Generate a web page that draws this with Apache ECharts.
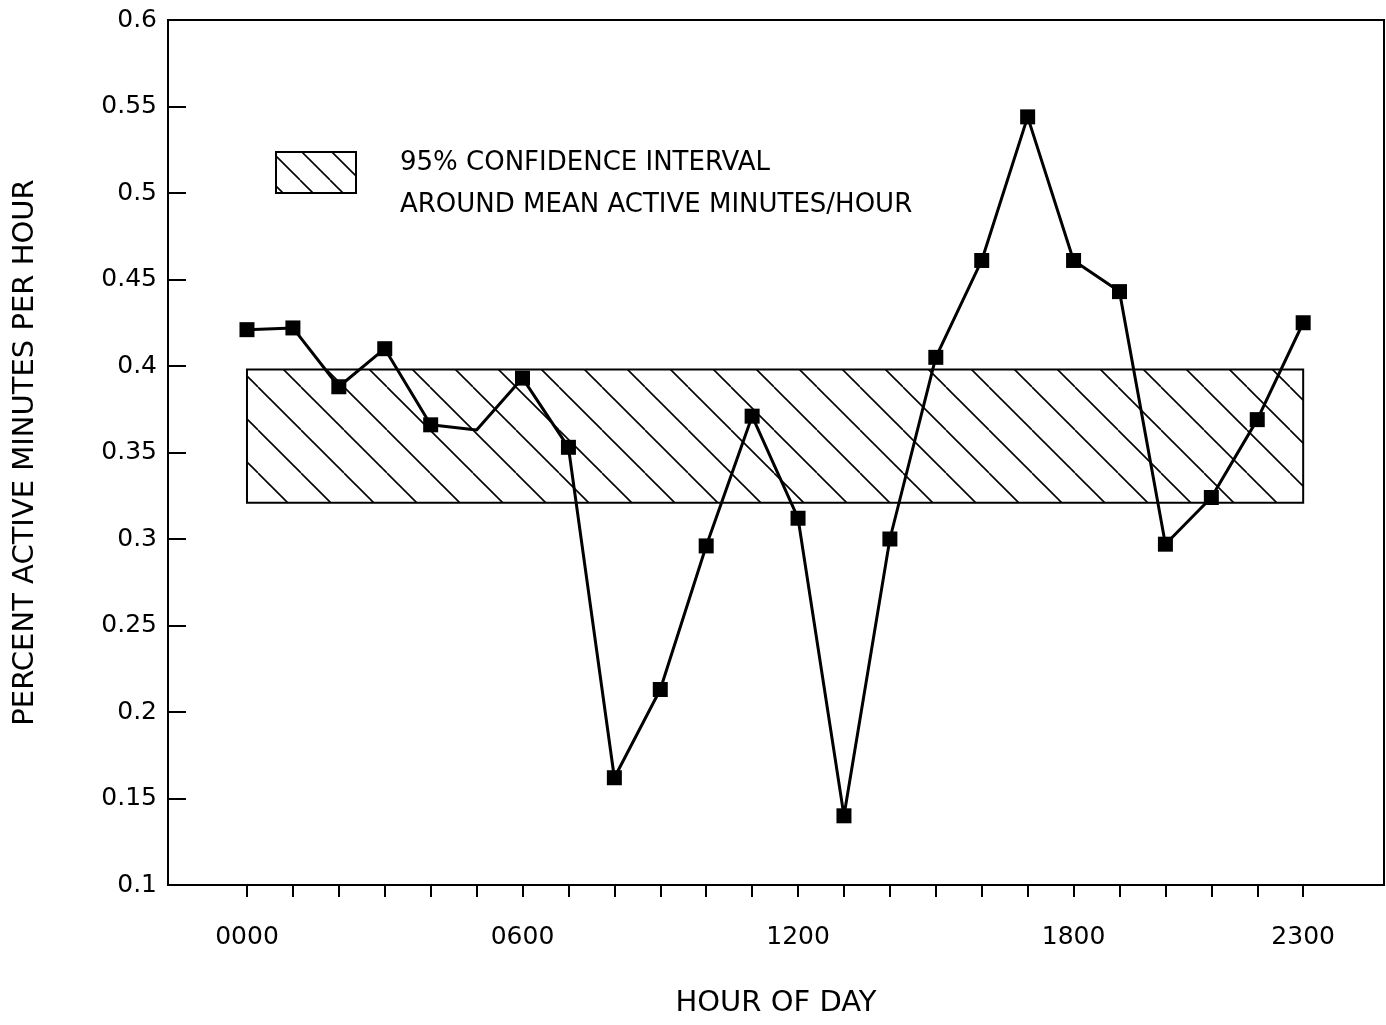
<!DOCTYPE html>
<html>
<head>
<meta charset="utf-8">
<script src="https://cdn.jsdelivr.net/npm/echarts@6/dist/echarts.min.js"></script>
<style>
  html, body { margin: 0; padding: 0; background: #fff; }
  #chart { width: 1386px; height: 1025px; }
</style>
</head>
<body>
<div id="chart"></div>
<script>
// hours of day, 0..23
const hours = [0, 1, 2, 3, 4, 5, 6, 7, 8, 9, 10, 11, 12, 13, 14, 15, 16, 17, 18, 19, 20, 21, 22, 23]
const activeShare = [
    0.421, 0.422, 0.388, 0.410, 0.366, 0.363, 0.393, 0.353, 0.162, 0.213, 0.296, 0.371,
    0.312, 0.140, 0.300, 0.405, 0.461, 0.544, 0.461, 0.443, 0.297, 0.324, 0.369, 0.425,
]
// hour 5 has no marker in the original
const noMarkerHours = [5]
const bandLow = 0.321
const bandHigh = 0.398
const bandStart = 0
const bandEnd = 23
const labelHours = [0, 6, 12, 18, 23]
const fmtHour = (h) => String(h * 100).padStart(4, "0")

const FONT = "DejaVu Sans"

// diagonal hatch tile
const makeHatch = (size) => {
    const c = document.createElement("canvas")
    c.width = size
    c.height = size
    const ctx = c.getContext("2d")
    ctx.strokeStyle = "#000"
    ctx.lineWidth = 1.6
    for (const k of [-size, 0, size]) {
        ctx.beginPath()
        ctx.moveTo(k, 0)
        ctx.lineTo(k + size, size)
        ctx.stroke()
    }
    return c
}
const hatch = makeHatch(43)
const hatchSmall = makeHatch(30)

const chart = echarts.init(document.getElementById("chart"), null, { renderer: "canvas" })

const config = {
    animation: false,
    textStyle: { fontFamily: FONT, color: "#000" },
    grid: {
        left: 168,
        right: 2,
        top: 20,
        bottom: 140,
        show: true,
        borderColor: "#000",
        borderWidth: 2,
    },
    xAxis: {
        type: "value",
        min: -1.72,
        max: 24.76,
        name: "HOUR OF DAY",
        nameLocation: "middle",
        nameGap: 104,
        nameTextStyle: { fontSize: 29, color: "#000", fontFamily: FONT },
        axisLine: { onZero: false, lineStyle: { color: "#000", width: 2 } },
        axisTick: {
            show: true,
            inside: false,
            length: 12,
            customValues: hours,
            lineStyle: { color: "#000", width: 2 },
        },
        axisLabel: {
            customValues: labelHours,
            formatter: (v) => fmtHour(v),
            margin: 40,
            fontSize: 25,
            color: "#000",
            fontFamily: FONT,
        },
        splitLine: { show: false },
    },
    yAxis: {
        type: "value",
        min: 0.1,
        max: 0.6,
        interval: 0.05,
        name: "PERCENT ACTIVE MINUTES PER HOUR",
        nameLocation: "middle",
        nameGap: 128,
        nameTextStyle: { fontSize: 29, color: "#000", fontFamily: FONT },
        axisLine: { show: true, onZero: false, lineStyle: { color: "#000", width: 2 } },
        axisTick: { show: true, inside: true, length: 18, lineStyle: { color: "#000", width: 2 } },
        axisLabel: {
            margin: 11,
            fontSize: 25,
            color: "#000",
            fontFamily: FONT,
            formatter: (v) => String(+v.toFixed(2)),
        },
        splitLine: { show: false },
    },
    graphic: [
        {
            type: "rect",
            shape: { x: 276, y: 152, width: 80, height: 41 },
            style: { fill: { image: hatchSmall, repeat: "repeat" }, stroke: "#000", lineWidth: 2 },
        },
        {
            type: "text",
            left: 400,
            top: 150,
            style: { text: "95% CONFIDENCE INTERVAL", fontSize: 26, fontFamily: FONT, fill: "#000" },
        },
        {
            type: "text",
            left: 400,
            top: 192,
            style: { text: "AROUND MEAN ACTIVE MINUTES/HOUR", fontSize: 26, fontFamily: FONT, fill: "#000" },
        },
    ],
    series: [
        {
            name: "band",
            type: "custom",
            z: 1,
            data: [[bandStart, bandEnd, bandLow, bandHigh]],
            renderItem: (params, api) => {
                const p0 = api.coord([api.value(0), api.value(3)])
                const p1 = api.coord([api.value(1), api.value(2)])
                return {
                    type: "rect",
                    shape: { x: p0[0], y: p0[1], width: p1[0] - p0[0], height: p1[1] - p0[1] },
                    style: { fill: { image: hatch, repeat: "repeat" }, stroke: "#000", lineWidth: 2 },
                }
            },
        },
        {
            name: "active",
            type: "line",
            z: 5,
            symbol: "rect",
            symbolSize: 15,
            lineStyle: { color: "#000", width: 3 },
            itemStyle: { color: "#000" },
            data: hours.map((h, i) =>
                noMarkerHours.includes(h)
                    ? { value: [h, activeShare[i]], symbol: "none" }
                    : [h, activeShare[i]]
            ),
        },
    ],
}

chart.setOption(config)
</script>
</body>
</html>
